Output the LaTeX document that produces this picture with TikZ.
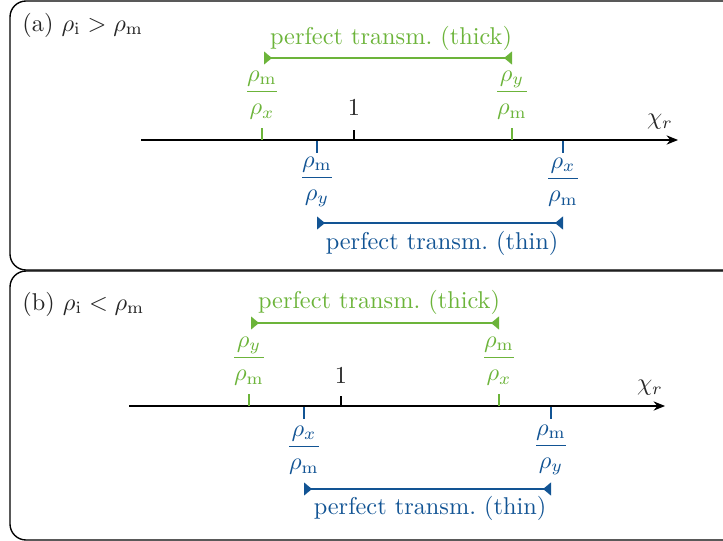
\documentclass[tikz,border=0pt]{standalone}
\usepackage{amsmath}
\usetikzlibrary{arrows.meta}
\definecolor{tgreen}{RGB}{108,180,58}
\definecolor{tblue}{RGB}{18,84,148}
\tikzset{
  panel/.style={draw=black, line width=0.57pt, rounded corners=6.6pt},
  axisline/.style={-{Stealth[length=4.7pt,width=3.8pt]}, line width=0.47pt},
  gtick/.style={tgreen, line width=0.75pt},
  btick/.style={tblue, line width=0.75pt},
  ktick/.style={black, line width=0.47pt},
  gbar/.style={tgreen, line width=0.95pt, {Triangle[reversed,length=3.3pt,width=5.2pt]}-{Triangle[reversed,length=3.3pt,width=5.2pt]}},
  bbar/.style={tblue, line width=0.95pt, {Triangle[reversed,length=3.3pt,width=5.2pt]}-{Triangle[reversed,length=3.3pt,width=5.2pt]}},
  txt/.style={inner sep=0pt},
  gtxt/.style={txt, text=tgreen},
  btxt/.style={txt, text=tblue},
  ktxt/.style={txt, text=black!85},
}
\begin{document}
\begin{tikzpicture}[x=0.01446cm, y=-0.01446cm]
\useasboundingbox (0,0) rectangle (723,541);
\clip (0,0) rectangle (723,541);
% panels
\draw[panel] (10,1) rectangle (760,270);
\draw[panel] (10,271) rectangle (760,540);

% ---------- panel (a) ----------
\node[ktxt, anchor=west] (la) at (22,25) {(a) $\rho_{\mathrm{i}} > \rho_{\mathrm{m}}$};
\coordinate (aS) at (141,140);
\coordinate (aE) at (678,140);
\draw[axisline] (aS) -- (aE);
\node[ktxt] (achi) at (660,122) {$\chi_r$};
% green ticks
\coordinate (ag1) at (262,140);
\coordinate (ag2) at (512,140);
\draw[gtick] (ag1) -- ++(0,-12);
\draw[gtick] (ag2) -- ++(0,-12);
\node[gtxt] (agf1) at (262,95) {$\displaystyle\frac{\rho_{\mathrm{m}}}{\rho_x}$};
\node[gtxt] (agf2) at (512,95) {$\displaystyle\frac{\rho_y}{\rho_{\mathrm{m}}}$};
% one
\coordinate (ak) at (354,140);
\draw[ktick] (ak) -- ++(0,-10);
\node[ktxt] (aone) at (354,108) {$1$};
% blue ticks
\coordinate (ab1) at (317,141);
\coordinate (ab2) at (563,141);
\draw[btick] (ab1) -- ++(0,12);
\draw[btick] (ab2) -- ++(0,12);
\node[btxt] (abf1) at (317,182) {$\displaystyle\frac{\rho_{\mathrm{m}}}{\rho_y}$};
\node[btxt] (abf2) at (563,182) {$\displaystyle\frac{\rho_x}{\rho_{\mathrm{m}}}$};
% brackets
\coordinate (agb1) at (264,58);
\coordinate (agb2) at (512,58);
\draw[gbar] (agb1) -- (agb2);
\node[gtxt] (agt) at (391,38) {perfect transm.\ (thick)};
\coordinate (abb1) at (317,223);
\coordinate (abb2) at (563,223);
\draw[bbar] (abb1) -- (abb2);
\node[btxt] (abt) at (442,243) {perfect transm.\ (thin)};

% ---------- panel (b) ----------
\node[ktxt, anchor=west] (lb) at (22,304) {(b) $\rho_{\mathrm{i}} < \rho_{\mathrm{m}}$};
\coordinate (bS) at (129,406);
\coordinate (bE) at (665,406);
\draw[axisline] (bS) -- (bE);
\node[ktxt] (bchi) at (650,388) {$\chi_r$};
\coordinate (bg1) at (249,406);
\coordinate (bg2) at (499,406);
\draw[gtick] (bg1) -- ++(0,-12);
\draw[gtick] (bg2) -- ++(0,-12);
\node[gtxt] (bgf1) at (249,361) {$\displaystyle\frac{\rho_y}{\rho_{\mathrm{m}}}$};
\node[gtxt] (bgf2) at (499,361) {$\displaystyle\frac{\rho_{\mathrm{m}}}{\rho_x}$};
\coordinate (bk) at (341,406);
\draw[ktick] (bk) -- ++(0,-10);
\node[ktxt] (bone) at (341,376) {$1$};
\coordinate (bb1) at (304,407);
\coordinate (bb2) at (551,407);
\draw[btick] (bb1) -- ++(0,12);
\draw[btick] (bb2) -- ++(0,12);
\node[btxt] (bbf1) at (304,450) {$\displaystyle\frac{\rho_x}{\rho_{\mathrm{m}}}$};
\node[btxt] (bbf2) at (551,450) {$\displaystyle\frac{\rho_{\mathrm{m}}}{\rho_y}$};
\coordinate (bgb1) at (251,323);
\coordinate (bgb2) at (499,323);
\draw[gbar] (bgb1) -- (bgb2);
\node[gtxt] (bgt) at (379,302) {perfect transm.\ (thick)};
\coordinate (bbb1) at (304,489);
\coordinate (bbb2) at (551,489);
\draw[bbar] (bbb1) -- (bbb2);
\node[btxt] (bbt) at (430,508) {perfect transm.\ (thin)};
\end{tikzpicture}
\end{document}
